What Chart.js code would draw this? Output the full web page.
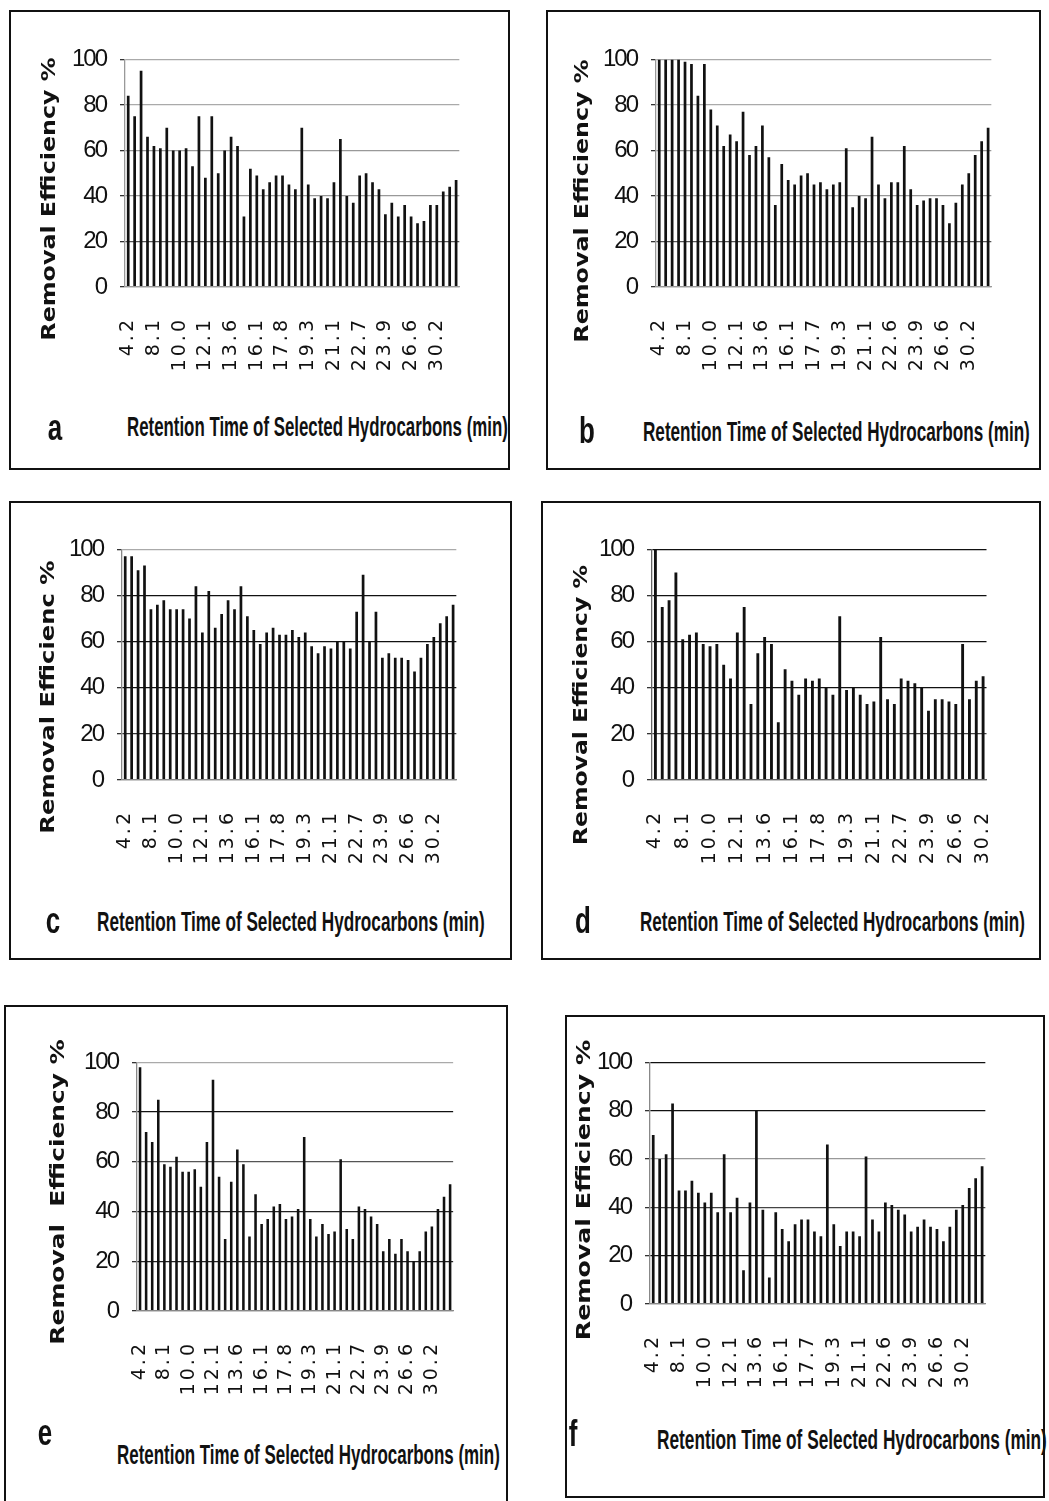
<!DOCTYPE html>
<html>
<head>
<meta charset="utf-8">
<script src="https://cdn.jsdelivr.net/npm/chart.js@4.4.1/dist/chart.umd.min.js"></script>
<style>
  html, body { margin: 0; padding: 0; background: #fff; }
  #page { position: relative; width: 1049px; height: 1501px; overflow: hidden; background: #fff; }
  .box { position: absolute; border: 2px solid #111; box-sizing: border-box; }
  .cv { position: absolute; }
  .ytitle, .xtitle, .letter { position: absolute; white-space: pre; color: #111; line-height: 1; }
  .ytitle { font: bold 20px 'DejaVu Sans', sans-serif; }
  .xtitle { font: bold 28px 'Liberation Sans Narrow', 'Liberation Sans', sans-serif; transform-origin: left top; }
  .letter { font: bold 36px 'Liberation Sans', sans-serif; transform-origin: center top; }
</style>
</head>
<body>
<div id="page"></div>
<script>
// visible retention-time tick labels (every 4th bar)
const ticksA = ['4.2', '8.1', '10.0', '12.1', '13.6', '16.1', '17.8', '19.3', '21.1', '22.7', '23.9', '26.6', '30.2'];
const ticksB = ['4.2', '8.1', '10.0', '12.1', '13.6', '16.1', '17.7', '19.3', '21.1', '22.6', '23.9', '26.6', '30.2'];
const ticksC = ticksA;
const ticksD = ticksA;
const ticksE = ticksA;
const ticksF = ticksB;

// removal efficiency (%) per selected hydrocarbon
const valuesA = [84, 75, 95, 66, 62, 61, 70, 60, 60, 61, 53, 75, 48, 75, 50, 60, 66, 62, 31, 52,
  49, 43, 46, 49, 49, 45, 43, 70, 45, 39, 40, 39, 46, 65, 40, 37, 49, 50, 46, 43,
  32, 37, 31, 36, 31, 28, 29, 36, 36, 42, 44, 47];
const valuesB = [100, 100, 100, 100, 99, 98, 84, 98, 78, 71, 62, 67, 64, 77, 58, 62, 71, 57, 36, 54,
  47, 45, 49, 50, 45, 46, 43, 45, 46, 61, 35, 40, 39, 66, 45, 39, 46, 46, 62, 43,
  36, 38, 39, 39, 36, 28, 37, 45, 50, 58, 64, 70];
const valuesC = [97, 97, 91, 93, 74, 76, 78, 74, 74, 74, 70, 84, 64, 82, 66, 72, 78, 74, 84, 71,
  65, 59, 64, 66, 63, 63, 65, 62, 64, 58, 55, 58, 57, 60, 60, 57, 73, 89, 60, 73,
  53, 55, 53, 53, 52, 47, 53, 59, 62, 68, 71, 76];
const valuesD = [100, 75, 78, 90, 61, 63, 64, 59, 58, 59, 50, 44, 64, 75, 33, 55, 62, 59, 25, 48,
  43, 37, 44, 43, 44, 40, 37, 71, 39, 40, 37, 33, 34, 62, 35, 33, 44, 43, 42, 40,
  30, 35, 35, 34, 33, 59, 35, 43, 45];
const valuesE = [98, 72, 68, 85, 59, 58, 62, 56, 56, 57, 50, 68, 93, 54, 29, 52, 65, 59, 30, 47,
  35, 37, 42, 43, 37, 38, 41, 70, 37, 30, 35, 31, 32, 61, 33, 29, 42, 41, 38, 35,
  24, 29, 23, 29, 24, 20, 24, 32, 34, 41, 46, 51];
const valuesF = [70, 60, 62, 83, 47, 47, 51, 46, 42, 46, 38, 62, 38, 44, 14, 42, 80, 39, 11, 38,
  31, 26, 33, 35, 35, 30, 28, 66, 33, 24, 30, 30, 28, 61, 35, 30, 42, 41, 39, 37,
  30, 32, 35, 32, 31, 26, 32, 39, 41, 48, 52, 57];

const xTitle = 'Retention Time of Selected Hydrocarbons (min)';

// layout of the six panels (page pixels)
const panels = [
  { letter: 'a', values: valuesA, ticks: ticksA, ytitle: 'Removal Efficiency %',
    box: [9, 10, 510, 470], plot: { l: 125, r: 499, t: 47, b: 287 },
    yt: { x: 48, y: 199, len: 283 }, xt: { x: 127, base: 435, w: 381 }, lt: { x: 55, base: 437 },
    grid: ['#999', '#555', '#999', '#999', '#aaa', '#aaa'], axis: '#999' },
  { letter: 'b', values: valuesB, ticks: ticksB, ytitle: 'Removal Efficiency %',
    box: [546, 10, 1041, 470], plot: { l: 656, r: 1031, t: 47, b: 287 },
    yt: { x: 581, y: 201, len: 283 }, xt: { x: 643, base: 440, w: 387 }, lt: { x: 587, base: 440 },
    grid: ['#999', '#555', '#999', '#999', '#aaa', '#aaa'], axis: '#999' },
  { letter: 'c', values: valuesC, ticks: ticksC, ytitle: 'Removal Efficienc %',
    box: [9, 501, 512, 960], plot: { l: 122, r: 496, t: 537, b: 780 },
    yt: { x: 47, y: 697, len: 273 }, xt: { x: 97, base: 930, w: 388 }, lt: { x: 53, base: 930 },
    grid: ['#888', '#333', '#111', '#111', '#111', '#aaa'], axis: '#888' },
  { letter: 'd', values: valuesD, ticks: ticksD, ytitle: 'Removal Efficiency %',
    box: [541, 501, 1041, 960], plot: { l: 652, r: 1026, t: 537, b: 780 },
    yt: { x: 580, y: 705, len: 280 }, xt: { x: 640, base: 930, w: 385 }, lt: { x: 583, base: 930 },
    grid: ['#888', '#444', '#111', '#111', '#111', '#111'], axis: '#666' },
  { letter: 'e', values: valuesE, ticks: ticksE, ytitle: 'Removal  Efficiency %',
    box: [4, 1005, 508, 1506], plot: { l: 137, r: 493, t: 1050, b: 1311 },
    yt: { x: 57, y: 1192, len: 305 }, xt: { x: 117, base: 1463, w: 383 }, lt: { x: 45, base: 1442 },
    grid: ['#888', '#222', '#222', '#555', '#111', '#aaa'], axis: '#888' },
  { letter: 'f', values: valuesF, ticks: ticksF, ytitle: 'Removal Efficiency %',
    box: [565, 1015, 1045, 1498], plot: { l: 650, r: 1025, t: 1050, b: 1304 },
    yt: { x: 583, y: 1190, len: 300 }, xt: { x: 657, base: 1448, w: 390 }, lt: { x: 573, base: 1443 },
    grid: ['#888', '#111', '#444', '#999', '#111', '#111'], axis: '#888' }
];

const page = document.getElementById('page');

// y tick labels (drawn before the bars) are packed tighter,
// x tick labels (drawn after the bars, ticks.z = 1) are spread out
const tickSpacing = {
  id: 'tickSpacing',
  beforeDraw(chart) { chart.ctx.letterSpacing = '-2px'; },
  beforeDatasetsDraw(chart) { chart.ctx.letterSpacing = '3px'; },
  afterDraw(chart) { chart.ctx.letterSpacing = '0px'; }
};

function addText(cls, text) {
  const el = document.createElement('div');
  el.className = cls;
  el.textContent = text;
  page.appendChild(el);
  return el;
}

function makePanel(p) {
  const box = document.createElement('div');
  box.className = 'box';
  box.style.left = p.box[0] + 'px';
  box.style.top = p.box[1] + 'px';
  box.style.width = (p.box[2] - p.box[0]) + 'px';
  box.style.height = (p.box[3] - p.box[1]) + 'px';
  page.appendChild(box);

  const yW = 80, padTop = 16, padRight = 10, xH = 110;
  const canvas = document.createElement('canvas');
  canvas.className = 'cv';
  canvas.width = yW + (p.plot.r - p.plot.l) + padRight;
  canvas.height = padTop + (p.plot.b - p.plot.t) + xH;
  canvas.style.left = (p.plot.l - yW) + 'px';
  canvas.style.top = (p.plot.t - padTop) + 'px';
  page.appendChild(canvas);

  const categories = p.values.map((v, i) => (i % 4 === 0 ? p.ticks[i / 4] : ''));

  new Chart(canvas, {
    type: 'bar',
    data: {
      labels: categories,
      datasets: [{
        data: p.values,
        backgroundColor: '#111',
        borderWidth: 0,
        barPercentage: 0.42,
        categoryPercentage: 1
      }]
    },
    options: {
      responsive: false,
      animation: false,
      devicePixelRatio: 1,
      layout: { padding: { top: padTop, right: padRight, left: 0, bottom: 0 } },
      plugins: { legend: { display: false }, tooltip: { enabled: false } },
      scales: {
        x: {
          grid: { display: false, drawTicks: false },
          border: { display: true, color: p.axis, width: 1.3, z: 1 },
          ticks: {
            z: 1,
            autoSkip: false,
            minRotation: 90,
            maxRotation: 90,
            padding: 30,
            color: '#111',
            font: { family: "'DejaVu Sans', sans-serif", size: 19 }
          },
          afterFit: function(scale) { scale.height = xH; }
        },
        y: {
          min: 0,
          max: 100,
          ticks: {
            stepSize: 20,
            padding: 14,
            color: '#111',
            font: { family: "'Liberation Sans Narrow', 'Liberation Sans', sans-serif", size: 24 }
          },
          grid: {
            color: function(c) { return p.grid[Math.round(c.tick.value / 20)]; },
            tickColor: '#333',
            lineWidth: 1.3,
            tickLength: 5
          },
          border: { color: p.axis, width: 1.3 },
          afterFit: function(scale) { scale.width = yW; }
        }
      }
    },
    plugins: [tickSpacing]
  });

  // y axis title, stretched to the reference length
  const yt = addText('ytitle', p.ytitle);
  const yScale = p.yt.len / yt.offsetWidth;
  yt.style.left = p.yt.x + 'px';
  yt.style.top = p.yt.y + 'px';
  yt.style.transform = 'translate(-50%, -50%) rotate(-90deg) scaleX(' + yScale + ')';

  // x axis title, squeezed to the reference width
  const xt = addText('xtitle', xTitle);
  xt.style.left = p.xt.x + 'px';
  xt.style.top = (p.xt.base - 0.8465 * 28) + 'px';
  xt.style.transform = 'scaleX(' + (p.xt.w / xt.offsetWidth) + ')';

  // panel letter (condensed)
  const lt = addText('letter', p.letter);
  lt.style.left = (p.lt.x - lt.offsetWidth / 2) + 'px';
  lt.style.top = (p.lt.base - 0.8465 * 36) + 'px';
  lt.style.transform = 'scaleX(0.72)';
}

panels.forEach(makePanel);
</script>
</body>
</html>
